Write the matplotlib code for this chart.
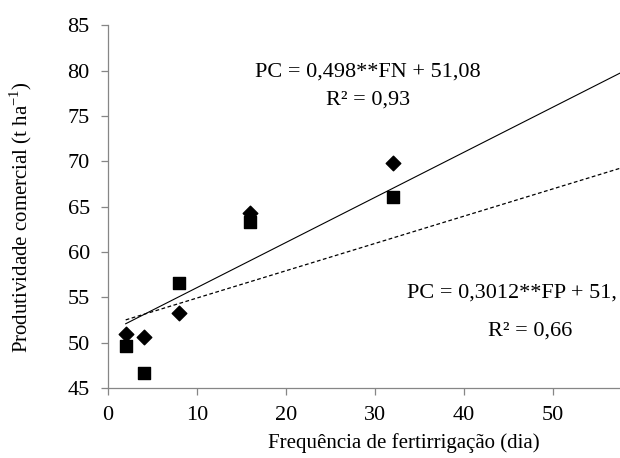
import numpy as np
import matplotlib
matplotlib.use("Agg")
import matplotlib.pyplot as plt

# -----------------------
# DATA
# -----------------------
freq = [2, 4, 8, 16, 32]
pc_fn = [51.0, 50.6, 53.3, 64.3, 69.8]
pc_fp = [49.6, 46.7, 56.6, 63.3, 66.0]

fn_coef = [0.498, 51.08]
fp_coef = [0.3012, 51.9]

x_ticks = [0, 10, 20, 30, 40, 50]
y_ticks = [45, 50, 55, 60, 65, 70, 75, 80, 85]

# -----------------------
# STYLE
# -----------------------
plt.rcParams["font.family"] = ["Liberation Serif", "DejaVu Serif"]
plt.rcParams["mathtext.fontset"] = "custom"
plt.rcParams["mathtext.rm"] = "Liberation Serif"

fig = plt.figure(figsize=(6.2, 4.58), dpi=100)
ax = fig.add_axes([0.174, 0.153, 0.826, 0.792])

# trend lines
x_end = 57.5
xs = np.array([2, x_end])
ax.plot(xs, fn_coef[0] * xs + fn_coef[1], color="black", lw=0.8)
ax.plot(xs, fp_coef[0] * xs + fp_coef[1], color="black", lw=0.9,
        dashes=(3, 2))

# points
ax.scatter(freq, pc_fn, marker="D", s=55, color="black", zorder=3)
ax.scatter(freq, pc_fp, marker="s", s=65, color="black", zorder=3)

# equations
ax.text(29.2, 79.8, "PC = 0,498**FN + 51,08", ha="center", va="center",
        fontsize=16)
ax.text(29.2, 76.8, "R² = 0,93", ha="center", va="center", fontsize=16)
ax.text(33.6, 55.5, "PC = 0,3012**FP + 51,", ha="left", va="center",
        fontsize=16)
ax.text(47.4, 51.3, "R² = 0,66", ha="center", va="center", fontsize=16)

# axes
ax.set_xlim(0, x_end)
ax.set_ylim(45, 85)
ax.set_xticks(x_ticks)
ax.set_yticks(y_ticks)
ax.set_xlabel("Frequência de fertirrigação (dia)", fontsize=15)
ax.set_ylabel("Produtividade comercial (t ha$^{-1}$)", fontsize=15)
ax.xaxis.set_label_coords(0.578, -0.125)
ax.yaxis.set_label_coords(-0.145, 0.47)

for side in ["top", "right"]:
    ax.spines[side].set_visible(False)
for side in ["left", "bottom"]:
    ax.spines[side].set_color("#868686")
    ax.spines[side].set_linewidth(0.9)
ax.tick_params(color="#868686", length=5, width=0.9, labelsize=16,
               pad=8)

fig.savefig("out.png", dpi=100)
